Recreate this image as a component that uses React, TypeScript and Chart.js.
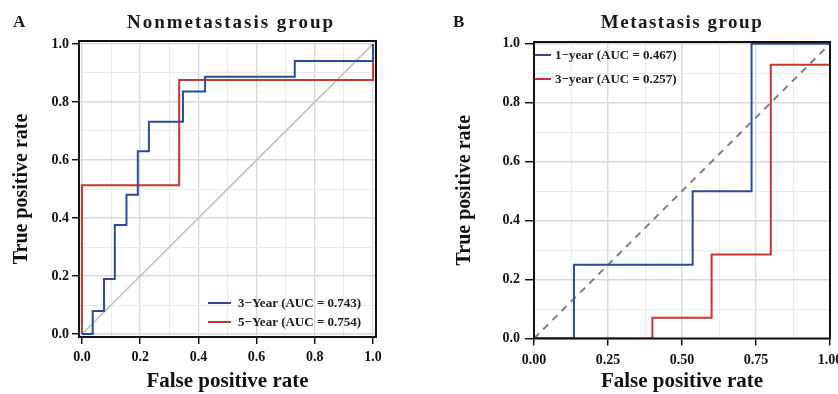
import React, { useEffect, useRef } from "react";
import { Chart, registerables } from "chart.js";

Chart.register(...registerables);

const SERIF = '"Liberation Serif", "Times New Roman", Times, serif';

// ---------------- Panel A : Nonmetastasis group ----------------
const A_TITLE = "Nonmetastasis group";
const A_LETTER = "A";
const A_YEAR3_LABEL = "3\u2212Year (AUC = 0.743)";
const A_YEAR3_FPR = [0, 0.037, 0.037, 0.076, 0.076, 0.113, 0.113, 0.153, 0.153, 0.192, 0.192, 0.23, 0.23, 0.347, 0.347, 0.423, 0.423, 0.731, 0.731, 1, 1];
const A_YEAR3_TPR = [0, 0, 0.08, 0.08, 0.19, 0.19, 0.376, 0.376, 0.48, 0.48, 0.63, 0.63, 0.732, 0.732, 0.836, 0.836, 0.887, 0.887, 0.941, 0.941, 1];
const A_YEAR5_LABEL = "5\u2212Year (AUC = 0.754)";
const A_YEAR5_FPR = [0, 0, 0.334, 0.334, 1, 1];
const A_YEAR5_TPR = [0, 0.513, 0.513, 0.876, 0.876, 1];
const A_X_TICKS = [0, 0.2, 0.4, 0.6, 0.8, 1];
const A_X_TICK_LABELS = ["0.0", "0.2", "0.4", "0.6", "0.8", "1.0"];
const A_X_GRID = [0, 0.1, 0.2, 0.3, 0.4, 0.5, 0.6, 0.7, 0.8, 0.9, 1];
const A_Y_TICKS = [0, 0.2, 0.4, 0.6, 0.8, 1];
const A_Y_TICK_LABELS = ["0.0", "0.2", "0.4", "0.6", "0.8", "1.0"];
const A_Y_GRID = [0, 0.1, 0.2, 0.3, 0.4, 0.5, 0.6, 0.7, 0.8, 0.9, 1];

// ---------------- Panel B : Metastasis group ----------------
const B_TITLE = "Metastasis group";
const B_LETTER = "B";
const B_YEAR1_LABEL = "1\u2212year (AUC = 0.467)";
const B_YEAR1_FPR = [0, 0.135, 0.135, 0.536, 0.536, 0.735, 0.735, 1];
const B_YEAR1_TPR = [0, 0, 0.25, 0.25, 0.5, 0.5, 1, 1];
const B_YEAR3_LABEL = "3\u2212year (AUC = 0.257)";
const B_YEAR3_FPR = [0, 0.4, 0.4, 0.6, 0.6, 0.8, 0.8, 1, 1];
const B_YEAR3_TPR = [0, 0, 0.07, 0.07, 0.285, 0.285, 0.929, 0.929, 1];
const B_X_TICKS = [0, 0.25, 0.5, 0.75, 1];
const B_X_TICK_LABELS = ["0.00", "0.25", "0.50", "0.75", "1.00"];
const B_X_GRID = [0, 0.125, 0.25, 0.375, 0.5, 0.625, 0.75, 0.875, 1];
const B_Y_TICKS = [0, 0.2, 0.4, 0.6, 0.8, 1];
const B_Y_TICK_LABELS = ["0.0", "0.2", "0.4", "0.6", "0.8", "1.0"];
const B_Y_GRID = [0, 0.1, 0.2, 0.3, 0.4, 0.5, 0.6, 0.7, 0.8, 0.9, 1];

const X_TITLE = "False positive rate";
const Y_TITLE = "True positive rate";

const BLUE = "#2a4a9c";
const RED = "#c9352e";

type Curve = { label: string; fpr: number[]; tpr: number[]; color: string };

type PanelCfg = {
  left: number;
  width: number;
  letter: string;
  letterX: number;
  title: string;
  titleX: number;
  titleSpacing: number;
  xMin: number;
  xMax: number;
  yMin: number;
  yMax: number;
  curves: Curve[];
  xTicks: number[];
  xLabels: string[];
  xGrid: number[];
  yTicks: number[];
  yLabels: string[];
  yGrid: number[];
  yAxisWidth: number;
  xAxisHeight: number;
  padTop: number;
  padRight: number;
  xTickPad: number;
  yTickLen: number;
  yTickPad: number;
  yTitlePad: number;
  legendLine: [number, number];
  legendTextX: number;
  legendRows: number[];
  diagColor: string;
  diagWidth: number;
  diagDash: number[];
};

const PANEL_A: PanelCfg = {
  left: 0,
  width: 420,
  letter: A_LETTER,
  letterX: 13,
  title: A_TITLE,
  titleX: 231,
  titleSpacing: 2,
  xMin: -0.01,
  xMax: 1.01,
  yMin: -0.01,
  yMax: 1.01,
  curves: [
    { label: A_YEAR3_LABEL, fpr: A_YEAR3_FPR, tpr: A_YEAR3_TPR, color: BLUE },
    { label: A_YEAR5_LABEL, fpr: A_YEAR5_FPR, tpr: A_YEAR5_TPR, color: RED },
  ],
  xTicks: A_X_TICKS,
  xLabels: A_X_TICK_LABELS,
  xGrid: A_X_GRID,
  yTicks: A_Y_TICKS,
  yLabels: A_Y_TICK_LABELS,
  yGrid: A_Y_GRID,
  yAxisWidth: 79,
  xAxisHeight: 57,
  padTop: 41,
  padRight: 44,
  xTickPad: 5,
  yTickLen: 7,
  yTickPad: 3,
  yTitlePad: 10,
  legendLine: [208, 231],
  legendTextX: 238,
  legendRows: [303, 322],
  diagColor: "#c2c2c2",
  diagWidth: 1.5,
  diagDash: [],
};

const PANEL_B: PanelCfg = {
  left: 420,
  width: 430,
  letter: B_LETTER,
  letterX: 33,
  title: B_TITLE,
  titleX: 262,
  titleSpacing: 1.5,
  xMin: 0,
  xMax: 1,
  yMin: 0,
  yMax: 1.006,
  curves: [
    { label: B_YEAR1_LABEL, fpr: B_YEAR1_FPR, tpr: B_YEAR1_TPR, color: BLUE },
    { label: B_YEAR3_LABEL, fpr: B_YEAR3_FPR, tpr: B_YEAR3_TPR, color: RED },
  ],
  xTicks: B_X_TICKS,
  xLabels: B_X_TICK_LABELS,
  xGrid: B_X_GRID,
  yTicks: B_Y_TICKS,
  yLabels: B_Y_TICK_LABELS,
  yGrid: B_Y_GRID,
  yAxisWidth: 114,
  xAxisHeight: 55.5,
  padTop: 42,
  padRight: 20,
  xTickPad: 6,
  yTickLen: 9,
  yTickPad: 5,
  yTitlePad: 33,
  legendLine: [115, 131],
  legendTextX: 135,
  legendRows: [55, 79],
  diagColor: "#7f7f7f",
  diagWidth: 2,
  diagDash: [7, 6],
};

const idxOf = (arr: number[], v: number) => arr.findIndex((m) => Math.abs(m - v) < 1e-9);

function makeScale(
  cfg: PanelCfg,
  grid: number[],
  majors: number[],
  labels: string[],
  isX: boolean
): any {
  const major = (c: any) => c && c.tick && idxOf(majors, c.tick.value) >= 0;
  return {
    type: "linear",
    min: isX ? cfg.xMin : cfg.yMin,
    max: isX ? cfg.xMax : cfg.yMax,
    afterBuildTicks: (s: any) => {
      s.ticks = grid.map((v) => ({ value: v }));
    },
    afterFit: (s: any) => {
      if (isX) s.height = cfg.xAxisHeight;
      else s.width = cfg.yAxisWidth;
    },
    ticks: {
      autoSkip: false,
      maxRotation: 0,
      minRotation: 0,
      padding: isX ? cfg.xTickPad : cfg.yTickPad,
      color: "#111",
      font: { family: SERIF, size: 14, weight: "bold" },
      callback: (v: any) => {
        const i = idxOf(majors, Number(v));
        return i >= 0 ? labels[i] : "";
      },
    },
    grid: {
      drawOnChartArea: true,
      drawTicks: true,
      tickLength: isX ? 7 : cfg.yTickLen,
      tickWidth: 1.5,
      color: (c: any) => (major(c) ? "#dadada" : "#ebebeb"),
      lineWidth: (c: any) => (major(c) ? 1.4 : 1),
      tickColor: (c: any) => (major(c) ? "#111" : "rgba(0,0,0,0)"),
    },
    border: { display: false },
    title: {
      display: true,
      text: isX ? X_TITLE : Y_TITLE,
      color: "#111",
      font: { family: SERIF, size: isX ? 21 : 20, weight: "bold" },
      padding: isX ? { top: 0, bottom: 0 } : { top: cfg.yTitlePad, bottom: 0 },
    },
  };
}

function RocPanel({ cfg }: { cfg: PanelCfg }) {
  const ref = useRef<HTMLCanvasElement | null>(null);

  useEffect(() => {
    const canvas = ref.current;
    if (!canvas) return;

    const deco = {
      id: "deco",
      afterDatasetsDraw(chart: any) {
        const { ctx, chartArea } = chart;
        const { left, top, right, bottom } = chartArea;
        ctx.save();
        // panel border
        ctx.strokeStyle = "#111";
        ctx.lineWidth = 2;
        ctx.strokeRect(left, top, right - left, bottom - top);
        // legend
        ctx.font = `bold 13px ${SERIF}`;
        ctx.textBaseline = "middle";
        ctx.textAlign = "left";
        cfg.curves.forEach((c, i) => {
          const y = cfg.legendRows[i];
          ctx.strokeStyle = c.color;
          ctx.lineWidth = 2;
          ctx.beginPath();
          ctx.moveTo(cfg.legendLine[0], y);
          ctx.lineTo(cfg.legendLine[1], y);
          ctx.stroke();
          ctx.fillStyle = "#1a1a1a";
          ctx.fillText(c.label, cfg.legendTextX, y + 0.5);
        });
        ctx.restore();
      },
      afterDraw(chart: any) {
        const { ctx } = chart;
        ctx.save();
        ctx.fillStyle = "#1a1a1a";
        ctx.textBaseline = "alphabetic";
        // panel letter
        ctx.textAlign = "left";
        ctx.font = `bold 17px ${SERIF}`;
        ctx.fillText(cfg.letter, cfg.letterX, 27);
        // title with letter spacing
        ctx.font = `bold 19px ${SERIF}`;
        (ctx as any).letterSpacing = `${cfg.titleSpacing}px`;
        const w = ctx.measureText(cfg.title).width;
        ctx.fillText(cfg.title, cfg.titleX - w / 2, 27.5);
        (ctx as any).letterSpacing = "0px";
        ctx.restore();
      },
    };

    const datasets: any[] = cfg.curves.map((c) => ({
      label: c.label,
      data: c.fpr.map((x, i) => ({ x, y: c.tpr[i] })),
      borderColor: c.color,
      backgroundColor: c.color,
      borderWidth: 2,
      pointRadius: 0,
      pointHoverRadius: 0,
      tension: 0,
      fill: false,
      showLine: true,
    }));
    datasets.push({
      label: "reference",
      data: [
        { x: 0, y: 0 },
        { x: 1, y: 1 },
      ],
      borderColor: cfg.diagColor,
      borderWidth: cfg.diagWidth,
      borderDash: cfg.diagDash,
      pointRadius: 0,
      pointHoverRadius: 0,
      tension: 0,
      fill: false,
      showLine: true,
    });

    const chart = new Chart(canvas, {
      type: "scatter",
      data: { datasets },
      options: {
        responsive: false,
        animation: false,
        devicePixelRatio: 1,
        layout: { padding: { top: cfg.padTop, right: cfg.padRight, left: 0, bottom: 0 } },
        plugins: {
          legend: { display: false },
          title: { display: false },
          tooltip: { enabled: false },
        },
        events: [],
        scales: {
          x: makeScale(cfg, cfg.xGrid, cfg.xTicks, cfg.xLabels, true),
          y: makeScale(cfg, cfg.yGrid, cfg.yTicks, cfg.yLabels, false),
        },
      } as any,
      plugins: [deco],
    });

    return () => chart.destroy();
  }, [cfg]);

  return (
    <div style={{ position: "absolute", left: cfg.left, top: 0, width: cfg.width, height: 394 }}>
      <canvas ref={ref} width={cfg.width} height={394} style={{ display: "block" }} />
    </div>
  );
}

export default function App() {
  return (
    <div
      style={{
        position: "fixed",
        left: 0,
        top: 0,
        width: 838,
        height: 394,
        overflow: "hidden",
        background: "#ffffff",
      }}
    >
      <RocPanel cfg={PANEL_A} />
      <RocPanel cfg={PANEL_B} />
    </div>
  );
}
